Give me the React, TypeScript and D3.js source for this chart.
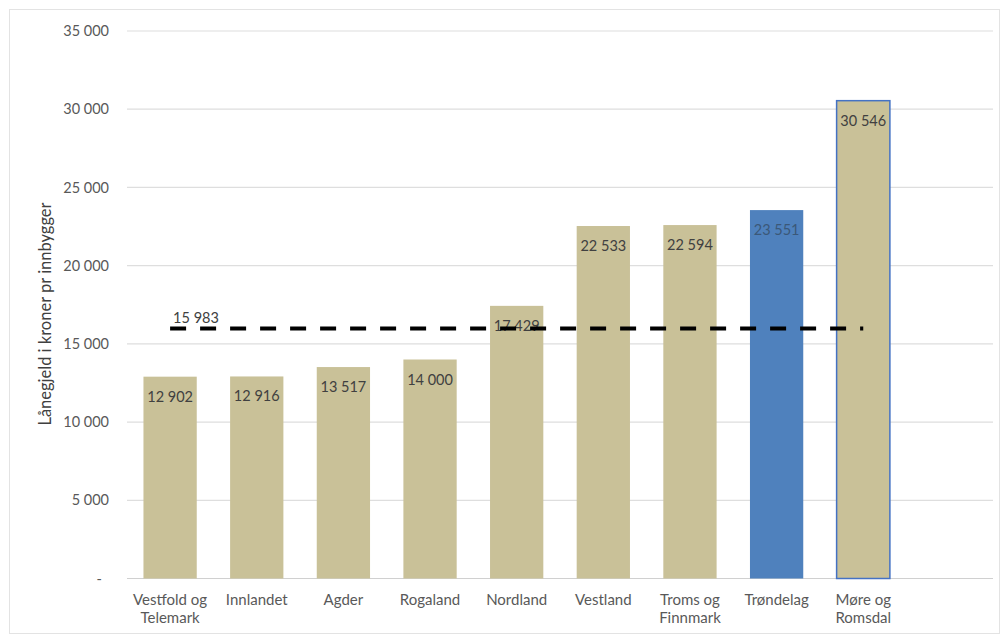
import React from "react";
import * as d3 from "d3";

const categories: string[][] = [
  ["Vestfold og", "Telemark"],
  ["Innlandet"],
  ["Agder"],
  ["Rogaland"],
  ["Nordland"],
  ["Vestland"],
  ["Troms og", "Finnmark"],
  ["Trøndelag"],
  ["Møre og", "Romsdal"],
];
const values: number[] = [12902, 12916, 13517, 14000, 17429, 22533, 22594, 23551, 30546];
const highlight: boolean[] = [false, false, false, false, false, false, false, true, false];
const outlined: boolean[] = [false, false, false, false, false, false, false, false, true];
const average = 15983;
const yTicks: number[] = [0, 5000, 10000, 15000, 20000, 25000, 30000, 35000];
const yTitle = "Lånegjeld i kroner pr innbygger";

const W = 1004;
const H = 640;
const FONT = "Lato, 'Open Sans', sans-serif";

const fmt = (v: number) => (v === 0 ? "-" : d3.format(",")(v).replace(/,/g, " "));

export default function App() {
  const left = 127;
  const right = 993;
  const top = 31;
  const bottom = 578.5;

  const slots = [...categories.map((_, i) => String(i)), "empty"];
  const x = d3.scaleBand<string>().domain(slots).range([left, right]).paddingInner(0.385).paddingOuter(0.19);
  const y = d3.scaleLinear().domain([0, 35000]).range([bottom, top]);

  const bw = x.bandwidth();
  const cx = (i: number) => (x(String(i)) as number) + bw / 2;

  const line = d3.line<number>().x((_, i) => cx(i)).y(() => y(average));
  const avgPath = line(values.map(() => average)) as string;

  return (
    <svg width={W} height={H} style={{ position: "absolute", left: 0, top: 0, background: "#fff" }} fontFamily={FONT}>
      <rect x={9.5} y={9.5} width={990} height={624} fill="#fff" stroke="#e3e3e3" />
      {yTicks.map((t) => (
        <g key={t}>
          <line x1={left} x2={right} y1={y(t)} y2={y(t)} stroke={t === 0 ? "#d0d0d0" : "#dedede"} strokeWidth={1.2} />
          <text x={t === 0 ? 102 : 109} y={y(t)} dy="0.35em" textAnchor="end" fontSize={14.5} fill="#595959">
            {fmt(t)}
          </text>
        </g>
      ))}
      <text
        transform={`translate(51,${314}) rotate(-90)`}
        textAnchor="middle"
        fontSize={16.5}
        fill="#404040"
      >
        {yTitle}
      </text>
      {values.map((v, i) => (
        <g key={i}>
          <rect
            x={x(String(i))}
            y={y(v)}
            width={bw}
            height={y(0) - y(v)}
            fill={highlight[i] ? "#4f81bd" : "#c9c198"}
            stroke={outlined[i] ? "#4472c4" : "none"}
            strokeWidth={outlined[i] ? 1.5 : 0}
          />
          <text
            x={cx(i)}
            y={y(v) + 25}
            textAnchor="middle"
            fontSize={14.5}
            fill={highlight[i] ? "#3b5878" : "#404040"}
          >
            {fmt(v)}
          </text>
          <text textAnchor="middle" fontSize={15} fill="#595959">
            {categories[i].map((l, j) => (
              <tspan key={j} x={cx(i)} y={605 + j * 18}>
                {l}
              </tspan>
            ))}
          </text>
        </g>
      ))}
      <path d={avgPath} fill="none" stroke="#000" strokeWidth={4} strokeDasharray="16 14" />
      <text x={cx(0) + 3} y={y(average) - 5} fontSize={14.5} fill="#404040">
        {fmt(average)}
      </text>
    </svg>
  );
}
